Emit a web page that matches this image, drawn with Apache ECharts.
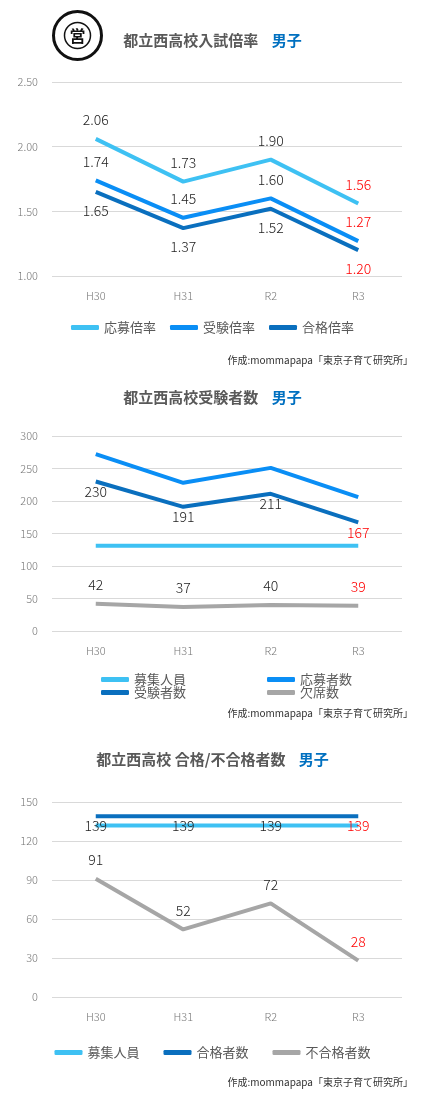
<!DOCTYPE html>
<html><head><meta charset="utf-8">
<script src="https://cdn.jsdelivr.net/npm/echarts@6/dist/echarts.min.js"></script>
<style>body{margin:0;background:#fff}div.c{width:425px}</style>
</head><body>
<div id="c1" class="c" style="height:370px"></div>
<div id="c2" class="c" style="height:365px"></div>
<div id="c3" class="c" style="height:369px"></div>
<script>
const categories = ['H30','H31','R2','R3'];
const ohboRate = [2.06,1.73,1.90,1.56];
const jukenRate = [1.74,1.45,1.60,1.27];
const gokakuRate = [1.65,1.37,1.52,1.20];
const boshu = [131,131,131,131];
const ohboNum = [272,228,251,206];
const jukenNum = [230,191,211,167];
const kesseki = [42,37,40,39];
const boshu3 = [132,132,132,132];
const gokakuNum = [139,139,139,139];
const fugokaku = [91,52,72,28];

const C_L='#3ec1f3', C_M='#0a8ef5', C_D='#0a6fbe', C_G='#a6a6a6';
const F='"Noto Sans CJK JP", sans-serif';
function lbl(arr,pos,fmt,dist){return arr.map((v,i)=>({value:v,label:{show:true,position:pos,distance:dist||12,fontFamily:F,fontWeight:300,fontSize:14,color:i===arr.length-1?'#ff0000':'#222',formatter:fmt}}));}
function ser(name,data,color,label,pos,fmt,dist){return {name,type:'line',data:label?lbl(data,pos,fmt,dist):data,symbol:'circle',symbolSize:0,showSymbol:true,lineStyle:{width:4,color},itemStyle:{color},z:label?3:2};}
function titleG(t,y){return [
 {type:'text',left:'center',top:y,style:{rich:{a:{fontSize:15,fontWeight:'bold',fill:'#595959',fontFamily:F},b:{fontSize:15,fontWeight:'bold',fill:'#0070c0',fontFamily:F}},text:'{a|'+t+'}    {b|男子}'}},
];}
function src(y){return {type:'text',right:12,top:y,style:{text:'作成:mommapapa「東京子育て研究所」',fontSize:10,fill:'#333',fontFamily:F}};}
function base(min,max,interval,fmt,gTop,gH){return {
 animation:false,
 grid:{left:52,right:23,top:gTop,height:gH},
 xAxis:{type:'category',data:categories,axisLine:{show:false},axisTick:{show:false},axisLabel:{color:'#777',fontFamily:F,fontWeight:300,fontSize:11,margin:14}},
 yAxis:{type:'value',min,max,interval,axisLabel:{color:'#777',fontFamily:F,fontWeight:300,fontSize:11,formatter:fmt,margin:14},splitLine:{lineStyle:{color:'#d9d9d9'}}}
};}
const f2=p=>p.value.toFixed(2);
const LS={itemWidth:28,itemHeight:5,icon:'roundRect',textStyle:{fontFamily:F,fontSize:13,color:'#595959'}};
const o1=base(1,2.5,0.5,v=>v.toFixed(2),82,194);
o1.graphic=[...titleG('都立西高校入試倍率',33),src(355),
 {type:'group',left:52,top:10,children:[
  {type:'circle',shape:{cx:26,cy:28,r:24},style:{fill:'#fff',stroke:'#111',lineWidth:3}},
  {type:'circle',shape:{cx:26,cy:28,r:13},style:{fill:'#fff',stroke:'#111',lineWidth:1.5}},
  {type:'text',style:{x:26,y:28,text:'営',fontSize:16,fontWeight:'bold',fill:'#111',align:'center',verticalAlign:'middle',fontFamily:F}}]}];
o1.legend={...LS,top:316,left:'center',itemGap:14,data:['応募倍率','受験倍率','合格倍率']};
o1.series=[ser('応募倍率',ohboRate,C_L,1,'top',f2),ser('受験倍率',jukenRate,C_M,1,'top',f2),ser('合格倍率',gokakuRate,C_D,1,'bottom',f2)];
echarts.init(document.getElementById('c1')).setOption(o1);

const o2=base(0,300,50,null,66,195);
o2.graphic=[...titleG('都立西高校受験者数',20),src(338)];
o2.legend=[{...LS,top:298,left:96,orient:'vertical',itemGap:0,data:['募集人員','受験者数']},
           {...LS,top:298,left:262,orient:'vertical',itemGap:0,data:['応募者数','欠席数']}];
o2.series=[ser('募集人員',boshu,C_L),ser('応募者数',ohboNum,C_M),ser('受験者数',jukenNum,C_D,1,'bottom',null,3),ser('欠席数',kesseki,C_G,1,'top')];
echarts.init(document.getElementById('c2')).setOption(o2);

const o3=base(0,150,30,null,67,195);
o3.graphic=[...titleG('都立西高校 合格/不合格者数',17),src(342)];
o3.legend={...LS,top:306,left:'center',itemGap:24,data:['募集人員','合格者数','不合格者数']};
o3.series=[ser('募集人員',boshu3,C_L),ser('合格者数',gokakuNum,C_D,1,'bottom',null,2),ser('不合格者数',fugokaku,C_G,1,'top')];
echarts.init(document.getElementById('c3')).setOption(o3);
</script></body></html>
